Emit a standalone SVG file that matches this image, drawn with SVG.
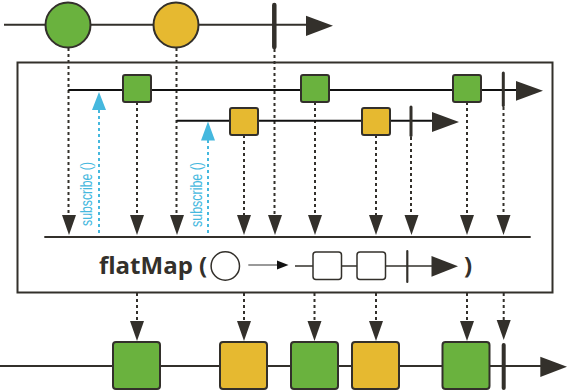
<svg xmlns="http://www.w3.org/2000/svg" width="568" height="391" viewBox="0 0 568 391">
<style>
.ln{stroke:#33302b;stroke-width:2;fill:none}
.bk{stroke:#111;stroke-width:2;fill:none}
.dot{stroke:#33302b;stroke-width:2;stroke-dasharray:3 3;fill:none}
.bdot{stroke:#45b8de;stroke-width:2;stroke-dasharray:3 3;fill:none}
.green{fill:#6ab23e;stroke:#33302b;stroke-width:2}
.yellow{fill:#e6b930;stroke:#33302b;stroke-width:2}
.term{stroke:#33302b;stroke-linecap:round;fill:none}
.head{fill:#33302b}
.bhead{fill:#45b8de}
.sub{font-family:"Liberation Sans",Arial,sans-serif;font-size:17px;fill:#45b8de}
.op{font-family:"Open Sans","DejaVu Sans",sans-serif;font-weight:bold;font-size:24px;fill:#33302b}
</style>
<defs>
<path id="dn" d="M-7,-20 L7,-20 L0,0 Z"/>
</defs>
<g id="connectors">
<path class="dot" d="M68.5,48V216M176.5,48V216M274.5,49V216M137,102V216M244,135V216M315,102V216M376,135V216M411,137V216M467,102V216M503.5,107V216"/>
<path class="dot" d="M137,293V322M244,293V322M314.5,293V322M376,293V322M467,293V322M503.7,293V322"/>
<g class="head">
<use href="#dn" x="69" y="235"/><use href="#dn" x="137" y="235"/><use href="#dn" x="177" y="235"/><use href="#dn" x="244" y="235"/><use href="#dn" x="275" y="235"/><use href="#dn" x="315" y="235"/><use href="#dn" x="376" y="235"/><use href="#dn" x="411.5" y="235"/><use href="#dn" x="467" y="235"/><use href="#dn" x="503.5" y="235"/>
<use href="#dn" x="137" y="341"/><use href="#dn" x="244" y="341"/><use href="#dn" x="314.5" y="341"/><use href="#dn" x="376" y="341"/><use href="#dn" x="467" y="341"/><use href="#dn" x="503.7" y="340"/>
</g>
<path class="bdot" d="M99,110V236M208,140V236"/>
<path class="bhead" d="M99,92L106,110L92,110ZM208,121.5L215,140.5L201,140.5Z"/>
</g>
<g id="source">
<path class="ln" d="M4,24.7H306"/>
<path class="head" d="M306,15.7L333,25.8L306,36Z"/>
<circle id="src-green" class="green" cx="68" cy="25" r="22.5"/>
<circle id="src-yellow" class="yellow" cx="176" cy="25" r="22.5"/>
<path class="term" stroke-width="4.5" d="M274.3,5V47"/>
</g>
<g id="operator">
<rect class="ln" x="17.5" y="62.5" width="535" height="230"/>
<g id="inner1">
<path class="bk" d="M68.3,90H516"/>
<path class="head" d="M516,81L543,90.8L516,100.7Z"/>
<rect class="green" x="123" y="75" width="28" height="27" rx="2"/>
<rect class="green" x="301" y="75" width="28" height="27" rx="2"/>
<rect class="green" x="453" y="75" width="28" height="27" rx="2"/>
<path class="term" stroke-width="3" d="M503.3,73V105.5"/>
</g>
<g id="inner2">
<path class="bk" d="M176.7,120.7H432"/>
<path class="head" d="M432,112L459,122L432,132Z"/>
<rect class="yellow" x="230" y="108" width="28" height="27" rx="2"/>
<rect class="yellow" x="362" y="108" width="28" height="27" rx="2"/>
<path class="term" stroke-width="3" d="M411,107V135.5"/>
</g>
<text class="sub" transform="translate(91.5,226) rotate(-90)" textLength="64" lengthAdjust="spacingAndGlyphs">subscribe ()</text>
<text class="sub" transform="translate(202.3,227) rotate(-90)" textLength="65" lengthAdjust="spacingAndGlyphs">subscribe ()</text>
<path class="ln" d="M44.3,237H530.7"/>
<g id="label">
<text class="op" x="99" y="273.5">flatMap <tspan x="199">(</tspan></text>
<circle cx="225.3" cy="266" r="14.2" fill="none" stroke="#33302b" stroke-width="1.5"/>
<path d="M248.3,265H278" stroke="#777" stroke-width="1.5" fill="none"/>
<path d="M277,260.5L288.5,265L277,269.5Z" fill="#111"/>
<path d="M295,266H432" stroke="#33302b" stroke-width="1.5" fill="none"/>
<rect x="313" y="252" width="28.5" height="27.5" rx="3" fill="#fff" stroke="#33302b" stroke-width="1.5"/>
<rect x="357" y="252" width="28.5" height="27.5" rx="3" fill="#fff" stroke="#33302b" stroke-width="1.5"/>
<path class="term" stroke-width="2.2" d="M407.3,251V282"/>
<path class="head" d="M431.5,256L458,266.3L431.5,276.7Z"/>
<text class="op" x="464" y="273.5">)</text>
</g>
</g>
<g id="output">
<path class="ln" d="M0,366H541"/>
<path class="head" d="M540.3,356.7L567,366.8L540.3,377Z"/>
<rect class="green" x="113" y="342" width="47" height="47" rx="3"/>
<rect class="yellow" x="220" y="342" width="47" height="47" rx="3"/>
<rect class="green" x="291" y="342" width="47" height="47" rx="3"/>
<rect class="yellow" x="352" y="342" width="47" height="47" rx="3"/>
<rect class="green" x="442.5" y="342" width="47" height="47" rx="3"/>
<path class="term" stroke-width="4" d="M503.7,345V388"/>
</g>
</svg>
